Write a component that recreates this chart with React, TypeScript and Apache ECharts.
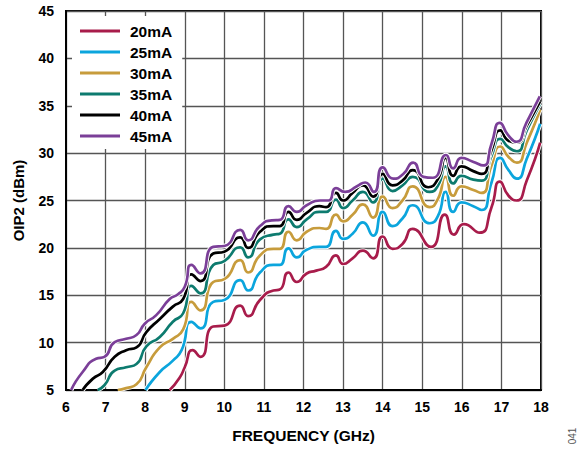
import React, { useEffect, useRef } from "react";
import * as echarts from "echarts";

const seriesNames = ["20mA", "25mA", "30mA", "35mA", "40mA", "45mA"];
const seriesColors = ["#a81c4b", "#0ba5dd", "#c79c3c", "#0d7b6f", "#000000", "#7b3f98"];

const freq20 = [8.62, 8.87, 9.0, 9.2, 9.4, 9.72, 10.0, 10.4, 10.6, 10.9, 11.24, 11.4, 11.62, 11.83, 12.08, 12.32, 12.57, 12.82, 13.0, 13.24, 13.5, 13.76, 14.0, 14.25, 14.5, 14.76, 15.22, 15.57, 15.8, 16.05, 16.45, 16.75, 16.96, 17.18, 17.38, 17.64, 17.98];
const oip20 = [5.0, 6.3, 7.4, 9.2, 8.5, 11.7, 11.8, 13.9, 12.8, 14.5, 15.5, 15.6, 17.4, 16.4, 17.3, 17.6, 18.0, 19.2, 18.3, 18.9, 19.7, 18.9, 21.2, 19.9, 20.4, 22.0, 20.1, 23.5, 21.4, 22.5, 21.6, 24.3, 27.0, 25.5, 25.0, 27.1, 31.1];

const freq25 = [8.01, 8.37, 8.7, 8.92, 9.17, 9.4, 9.72, 10.0, 10.4, 10.6, 10.9, 11.24, 11.4, 11.62, 11.83, 12.08, 12.4, 12.57, 12.82, 13.0, 13.24, 13.5, 13.76, 14.0, 14.25, 14.5, 14.76, 15.19, 15.4, 15.59, 15.78, 15.99, 16.29, 16.5, 16.75, 16.97, 17.18, 17.39, 17.64, 17.98];
const oip25 = [5.0, 6.9, 8.1, 9.2, 12.2, 11.5, 14.3, 14.5, 16.6, 15.5, 17.4, 18.2, 18.2, 19.95, 19.0, 19.8, 20.1, 20.1, 21.8, 20.95, 21.5, 22.7, 21.3, 23.8, 22.3, 23.1, 24.5, 22.6, 23.4, 25.9, 23.8, 24.8, 24.4, 24.0, 26.9, 29.5, 28.2, 27.3, 29.4, 33.1];

const freq30 = [7.31, 7.52, 7.78, 8.03, 8.37, 8.7, 8.96, 9.17, 9.4, 9.72, 10.0, 10.4, 10.6, 10.9, 11.24, 11.4, 11.62, 11.83, 12.08, 12.4, 12.57, 12.82, 13.0, 13.24, 13.5, 13.76, 14.0, 14.25, 14.5, 14.76, 15.19, 15.4, 15.59, 15.78, 15.99, 16.29, 16.5, 16.75, 16.97, 17.18, 17.39, 17.64, 17.98];
const oip30 = [5.0, 5.2, 5.6, 7.4, 9.5, 10.4, 11.4, 14.3, 13.4, 16.4, 16.7, 18.7, 17.4, 19.2, 19.9, 19.9, 21.7, 20.8, 21.7, 22.1, 22.0, 23.5, 22.8, 23.5, 24.6, 23.2, 25.4, 24.2, 25.0, 26.5, 24.3, 25.2, 27.5, 25.5, 26.5, 26.1, 25.8, 28.7, 30.7, 29.6, 29.0, 31.1, 34.6];

const freq35 = [6.8, 6.97, 7.23, 7.52, 7.78, 8.03, 8.37, 8.7, 8.96, 9.17, 9.4, 9.72, 10.0, 10.4, 10.6, 10.9, 11.24, 11.4, 11.62, 11.83, 12.08, 12.4, 12.57, 12.82, 13.0, 13.24, 13.5, 13.76, 14.0, 14.25, 14.5, 14.76, 15.19, 15.4, 15.59, 15.78, 15.99, 16.29, 16.5, 16.75, 16.97, 17.18, 17.39, 17.64, 17.98];
const oip35 = [5.0, 5.5, 7.05, 7.4, 7.75, 9.6, 10.6, 12.2, 13.1, 16.0, 15.2, 18.2, 18.6, 20.05, 19.0, 20.9, 21.4, 21.5, 23.0, 22.2, 23.0, 23.8, 23.8, 25.1, 24.2, 25.0, 25.9, 24.8, 27.3, 26.0, 26.6, 27.5, 25.9, 26.6, 28.6, 26.8, 27.6, 27.2, 27.1, 29.7, 31.5, 30.6, 30.2, 32.4, 35.2];

const freq40 = [6.42, 6.68, 6.93, 7.23, 7.52, 7.78, 8.03, 8.37, 8.7, 8.96, 9.17, 9.4, 9.72, 10.0, 10.4, 10.6, 10.9, 11.24, 11.4, 11.62, 11.83, 12.08, 12.4, 12.57, 12.82, 13.0, 13.24, 13.5, 13.76, 14.0, 14.25, 14.5, 14.76, 15.15, 15.4, 15.59, 15.78, 15.99, 16.29, 16.5, 16.75, 16.97, 17.18, 17.39, 17.64, 17.98];
const oip40 = [5.0, 6.2, 6.9, 8.5, 9.2, 9.5, 11.1, 12.5, 13.8, 14.6, 17.2, 16.5, 19.4, 19.6, 21.1, 20.0, 21.7, 22.3, 22.3, 23.8, 22.95, 23.7, 24.4, 24.3, 25.8, 25.0, 25.8, 26.6, 25.4, 27.8, 26.6, 27.1, 28.2, 26.4, 27.3, 29.5, 27.6, 28.6, 28.1, 27.8, 30.3, 32.4, 31.3, 31.1, 32.9, 35.5];

const freq45 = [6.13, 6.42, 6.76, 6.97, 7.23, 7.52, 7.78, 7.99, 8.28, 8.62, 8.83, 9.0, 9.17, 9.4, 9.72, 10.0, 10.4, 10.6, 10.9, 11.2, 11.4, 11.62, 11.83, 12.08, 12.42, 12.63, 12.82, 13.05, 13.35, 13.56, 13.78, 14.0, 14.27, 14.52, 14.77, 15.03, 15.27, 15.6, 15.78, 15.99, 16.28, 16.54, 16.75, 16.96, 17.17, 17.38, 17.63, 17.97];
const oip45 = [5.0, 6.9, 8.3, 8.5, 10.05, 10.4, 10.8, 12.0, 12.9, 14.6, 15.1, 15.9, 18.2, 17.3, 20.1, 20.2, 21.9, 20.8, 22.3, 22.9, 22.95, 24.4, 23.8, 24.5, 25.0, 25.0, 26.3, 25.9, 26.5, 26.9, 25.9, 28.5, 27.3, 27.8, 29.0, 27.5, 27.4, 29.8, 28.4, 29.5, 29.1, 28.7, 31.0, 33.2, 31.9, 31.2, 33.2, 36.0];

const freqs = [freq20, freq25, freq30, freq35, freq40, freq45];
const oips = [oip20, oip25, oip30, oip35, oip40, oip45];

const FONT = "'Liberation Sans', Arial, sans-serif";

export default function App() {
  const ref = useRef<HTMLDivElement>(null);
  useEffect(() => {
    if (!ref.current) return;
    const chart = echarts.init(ref.current, undefined, { renderer: "svg" });
    const series: any[] = [];
    seriesNames.forEach((name, i) => {
      const data = freqs[i].map((f, j) => [f, oips[i][j]]);
      series.push({
        name: "_halo" + name,
        type: "line",
        data,
        smooth: 0.6,
        showSymbol: false,
        silent: true,
        lineStyle: { color: "#ffffff", width: 4.6 },
        itemStyle: { color: "#ffffff" },
      });
      series.push({
        name,
        type: "line",
        data,
        smooth: 0.6,
        showSymbol: false,
        lineStyle: { color: seriesColors[i], width: 2.7 },
        itemStyle: { color: seriesColors[i] },
      });
    });
    chart.setOption({
      animation: false,
      grid: {
        left: 66,
        right: 46,
        top: 11,
        bottom: 59,
        show: true,
        borderColor: "#000",
        borderWidth: 2,
        backgroundColor: "#fff",
      },
      legend: {
        data: seriesNames,
        orient: "vertical",
        left: 72,
        top: 16,
        itemWidth: 40,
        itemHeight: 3,
        itemGap: 5.0,
        icon: "rect",
        backgroundColor: "#fff",
        padding: [7, 10, 5, 8],
        textStyle: {
          fontFamily: FONT,
          fontWeight: "bold",
          fontSize: 15.5,
          color: "#000",
          padding: [0, 0, 0, 5],
        },
      },
      xAxis: {
        type: "value",
        min: 6,
        max: 18,
        interval: 1,
        name: "FREQUENCY (GHz)",
        nameLocation: "middle",
        nameGap: 37,
        nameTextStyle: { fontFamily: FONT, fontWeight: "bold", fontSize: 15.5, color: "#000" },
        axisLine: { show: true, lineStyle: { color: "#000", width: 2 } },
        axisTick: { show: false },
        axisLabel: { fontFamily: FONT, fontWeight: "bold", fontSize: 14, color: "#000", margin: 10 },
        splitLine: { show: true, lineStyle: { color: "#555", width: 1.3 } },
      },
      yAxis: {
        type: "value",
        min: 5,
        max: 45,
        interval: 5,
        name: "OIP2 (dBm)",
        nameLocation: "middle",
        nameGap: 40,
        nameTextStyle: { fontFamily: FONT, fontWeight: "bold", fontSize: 15, color: "#000" },
        axisLine: { show: true, lineStyle: { color: "#000", width: 2 } },
        axisTick: { show: false },
        axisLabel: { fontFamily: FONT, fontWeight: "bold", fontSize: 14, color: "#000", margin: 12 },
        splitLine: { show: true, lineStyle: { color: "#555", width: 1.3 } },
      },
      graphic: [
        {
          type: "text",
          x: 572,
          y: 436,
          rotation: Math.PI / 2,
          style: {
            text: "041",
            fontFamily: FONT,
            fontSize: 10,
            fill: "#555",
            align: "center",
            verticalAlign: "middle",
          },
        },
      ],
      series,
    });
    return () => chart.dispose();
  }, []);
  return (
    <div
      ref={ref}
      style={{ position: "fixed", left: 0, top: 0, width: 587, height: 449, background: "#fff" }}
    />
  );
}
